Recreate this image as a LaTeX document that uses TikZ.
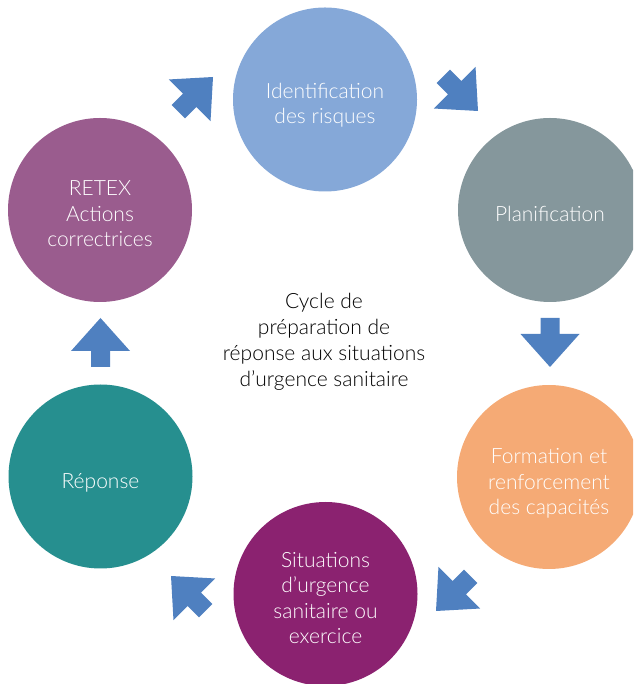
\documentclass[tikz,border=0pt]{standalone}
\usepackage{fontspec}
\setmainfont{Lato Light}
\definecolor{cIdent}{HTML}{85A8D8}
\definecolor{cPlan}{HTML}{85979C}
\definecolor{cForm}{HTML}{F5AA75}
\definecolor{cSitu}{HTML}{8B2270}
\definecolor{cRep}{HTML}{268F8F}
\definecolor{cRetex}{HTML}{9A5C8E}
\definecolor{cArrow}{HTML}{4F80C0}
\begin{document}
\begin{tikzpicture}[x=1pt,y=1pt,
  phase/.style={circle, minimum size=184pt, inner sep=0pt},
  phasetext/.style={text=white, align=center, yshift=-4pt,
    font=\fontsize{21}{25.5}\selectfont},
  blockarrow/.style={fill=cArrow}]
\useasboundingbox (0,0) rectangle (633,684);
\clip (0,0) rectangle (633,684);
\node[phase, fill=cIdent, label={[phasetext, yshift=-1.5pt]center:Identification\\des risques}] (ident) at (325,584.5) {};
\node[phase, fill=cPlan, label={[phasetext]center:Planification}] (plan) at (550,474) {};
\node[phase, fill=cForm, label={[phasetext, yshift=-2.5pt]center:Formation et\\renforcement\\des capacités}] (form) at (549,207) {};
\node[phase, fill=cSitu, label={[phasetext]center:Situations\\d’urgence\\sanitaire ou\\exercice}] (situ) at (325.5,90) {};
\node[phase, fill=cRep, label={[phasetext, yshift=-2.5pt]center:Réponse}] (rep) at (100.5,207.5) {};
\node[phase, fill=cRetex, label={[phasetext]center:RETEX\\Actions\\correctrices}] (retex) at (100,474) {};
\node[align=center, font=\fontsize{21}{26}\selectfont, text=black] (title) at (324,342)
  {Cycle de\\préparation de\\réponse aux situations\\d’urgence sanitaire};
\coordinate (tipA) at (213,607);
\coordinate (tipB) at (478,573);
\coordinate (tipC) at (550,317);
\coordinate (tipD) at (436,73);
\coordinate (tipE) at (171,108);
\coordinate (tipF) at (100.5,366);
\foreach \t/\a in {tipA/45, tipB/-45, tipC/-90, tipD/-135, tipE/135, tipF/90}{
  \fill[blockarrow, shift={(\t)}, rotate=\a]
    (-49,9.5) -- (-33,9.5) -- (-33,29.5) -- (0,0) -- (-33,-29.5) -- (-33,-9.5) -- (-49,-9.5) -- cycle;
}
\end{tikzpicture}
\end{document}
